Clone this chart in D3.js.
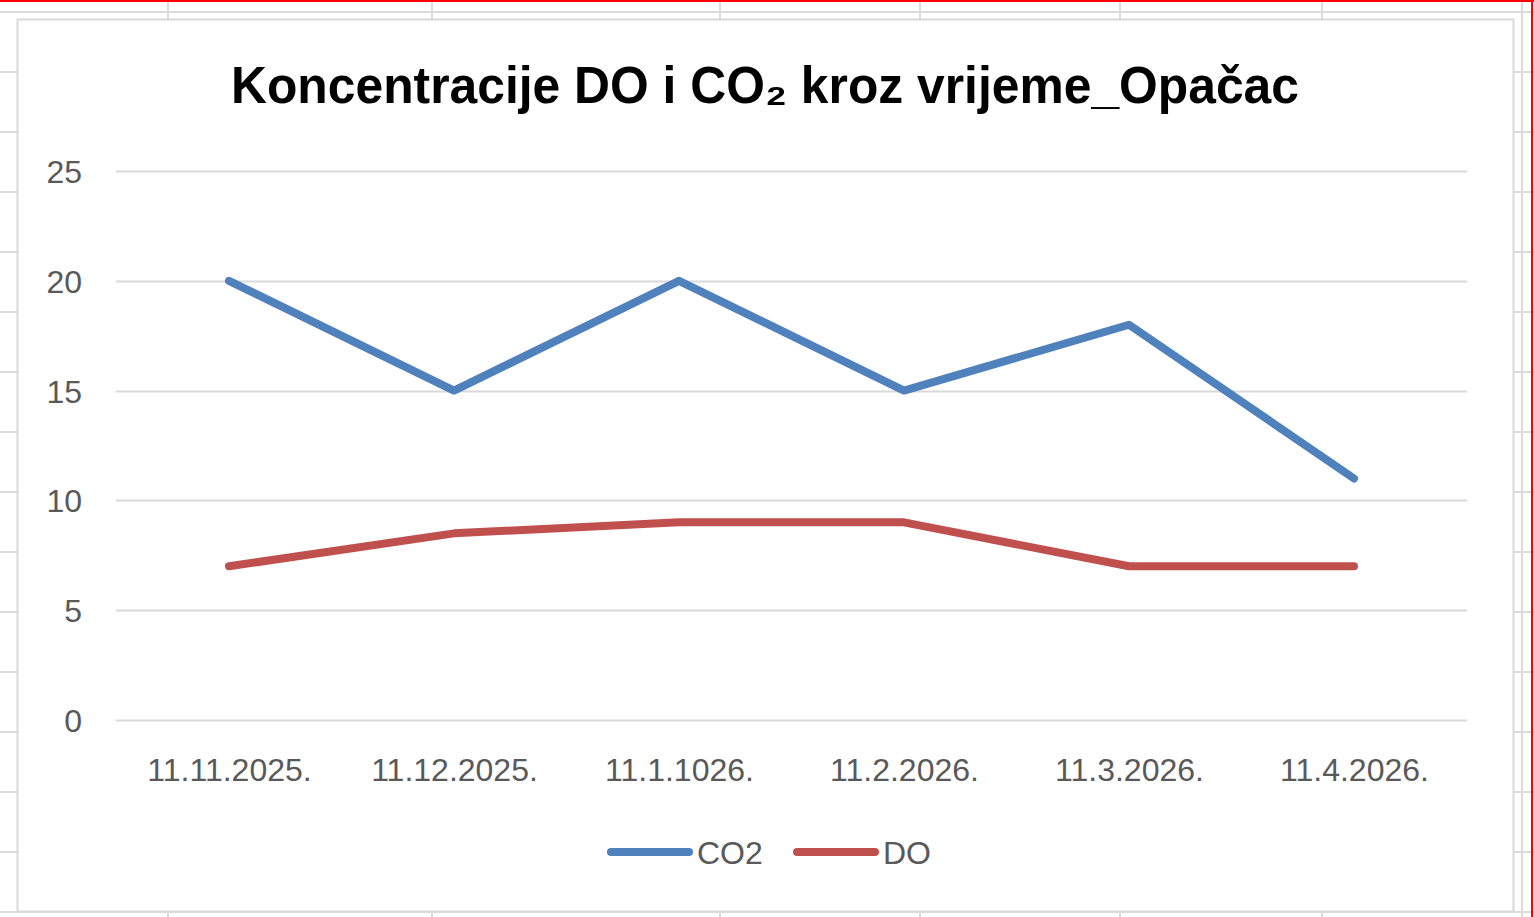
<!DOCTYPE html>
<html>
<head>
<meta charset="utf-8">
<script src="https://cdn.jsdelivr.net/npm/d3@7"></script>
<style>
  body { margin: 0; background: #fff; }
  svg { display: block; }
</style>
</head>
<body>
<svg id="chart"></svg>
<script>
// data
let dates = ['11.11.2025.', '11.12.2025.', '11.1.1026.', '11.2.2026.', '11.3.2026.', '11.4.2026.'];
let co2Values = [20, 15, 20, 15, 18, 11];
let doValues = [7, 8.5, 9, 9, 7, 7];
let yTicks = [0, 5, 10, 15, 20, 25];
let seriesNames = ['CO2', 'DO'];

let W = 1534, H = 917;
let labelFont = '"Liberation Sans", Arial, sans-serif';

let svg = d3.select('#chart').attr('width', W).attr('height', H);

svg.append('rect').attr('width', W).attr('height', H).attr('fill', '#fff');

// spreadsheet cells behind the chart
let grid = svg.append('g').attr('stroke', '#dcdcdc').attr('stroke-width', 2);
d3.range(12, H, 60).forEach(function (y) {
    grid.append('line').attr('x1', 0).attr('x2', W).attr('y1', y).attr('y2', y);
});
[168, 432, 720, 920, 1120, 1322, 1522].forEach(function (x) {
    grid.append('line').attr('x1', x).attr('x2', x).attr('y1', 0).attr('y2', H);
});

// chart box
svg.append('rect')
    .attr('x', 17.5).attr('y', 19.5)
    .attr('width', 1496).attr('height', 892)
    .attr('fill', '#fff')
    .attr('stroke', '#d9d9d9')
    .attr('stroke-width', 2);

// red selection edge
svg.append('line').attr('x1', 0).attr('x2', W).attr('y1', 1).attr('y2', 1)
    .attr('stroke', '#ff0000').attr('stroke-width', 2);
svg.append('line').attr('x1', 1532).attr('x2', 1532).attr('y1', 0).attr('y2', H)
    .attr('stroke', '#ff0000').attr('stroke-width', 2);

// title
svg.append('text')
    .attr('x', 765).attr('y', 103)
    .attr('text-anchor', 'middle')
    .attr('textLength', 1068)
    .attr('lengthAdjust', 'spacingAndGlyphs')
    .style('font-family', labelFont)
    .style('font-weight', 'bold')
    .style('font-size', '52px')
    .style('fill', '#000')
    .text('Koncentracije DO i CO₂ kroz vrijeme_Opačac');

let xScale = d3.scalePoint()
    .domain(dates)
    .range([116.5, 1466.5])
    .padding(0.5);

let yScale = d3.scaleLinear()
    .domain([0, 25])
    .range([720, 171]);

// gridlines
svg.append('g')
    .selectAll('line')
    .data(yTicks)
    .enter()
    .append('line')
    .attr('x1', 116).attr('x2', 1467)
    .attr('y1', function (d) { return Math.round(yScale(d)) + 0.5; })
    .attr('y2', function (d) { return Math.round(yScale(d)) + 0.5; })
    .attr('stroke', '#d9d9d9')
    .attr('stroke-width', 2);

// y axis labels
let yAxis = d3.axisLeft(yScale).tickValues(yTicks).tickSize(0).tickPadding(0);
let yG = svg.append('g')
    .attr('transform', 'translate(82,0)')
    .call(yAxis);
yG.select('.domain').remove();
yG.selectAll('text')
    .attr('dy', '0.36em')
    .style('font-family', labelFont)
    .style('font-size', '32px')
    .style('fill', '#595959');

// x axis labels
let xAxis = d3.axisBottom(xScale).tickSize(0).tickPadding(0);
let xG = svg.append('g')
    .attr('transform', 'translate(0,781)')
    .call(xAxis);
xG.select('.domain').remove();
xG.selectAll('text')
    .attr('y', 0)
    .attr('dy', 0)
    .style('font-family', labelFont)
    .style('font-size', '32px')
    .style('fill', '#595959');

let colors = {CO2: '#4f81bd', DO: '#c0504d'};
let series = [
    {name: 'CO2', values: co2Values},
    {name: 'DO', values: doValues}
];

let line = d3.line()
    .x(function (d, i) { return xScale(dates[i]); })
    .y(function (d) { return yScale(d); });

svg.append('g')
    .selectAll('path')
    .data(series)
    .enter()
    .append('path')
    .attr('d', function (d) { return line(d.values); })
    .attr('fill', 'none')
    .attr('stroke', function (d) { return colors[d.name]; })
    .attr('stroke-width', 8)
    .attr('stroke-linecap', 'round')
    .attr('stroke-linejoin', 'round');

// legend
let legendX = [611, 797];
let legend = svg.append('g')
    .selectAll('g')
    .data(seriesNames)
    .enter()
    .append('g')
    .attr('transform', function (d, i) { return 'translate(' + legendX[i] + ',852)'; });
legend.append('line')
    .attr('x1', 0).attr('x2', 78)
    .attr('stroke', function (d) { return colors[d]; })
    .attr('stroke-width', 8)
    .attr('stroke-linecap', 'round');
legend.append('text')
    .attr('x', 86)
    .attr('dy', '0.36em')
    .style('font-family', labelFont)
    .style('font-size', '32px')
    .style('fill', '#595959')
    .text(function (d) { return d; });
</script>
</body>
</html>
